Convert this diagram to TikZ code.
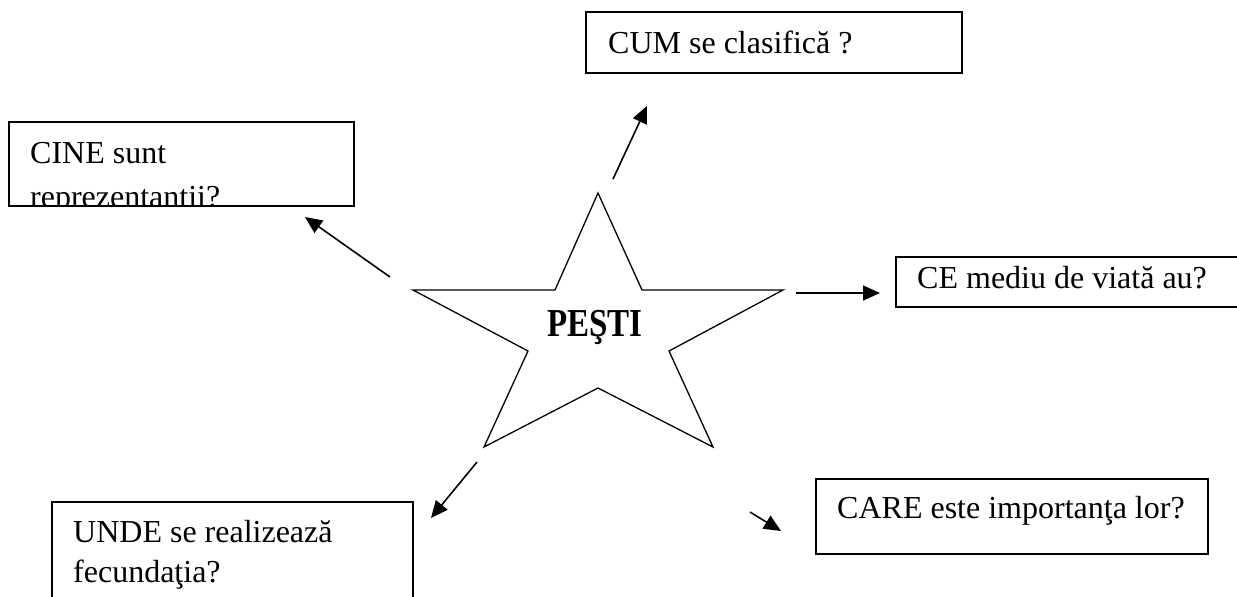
\documentclass[tikz,border=0pt]{standalone}
\usepackage{fontspec}
\setmainfont{Liberation Serif}
\usetikzlibrary{arrows.meta}
\tikzset{
  boxline/.style={line width=1.3pt, draw=black},
  starline/.style={line width=1.3pt, draw=black, line join=miter},
  conn/.style={line width=1.6pt, -{Triangle[length=17pt,width=15pt]}},
  qtext/.style={anchor=base west, inner sep=0pt, font=\fontsize{32}{40}\selectfont},
}
\begin{document}
\begin{tikzpicture}[x=1pt,y=-1pt]
\useasboundingbox (0,0) rectangle (1237,597);
% star
\draw[starline] (598,193) -- (642,290) -- (783,290) -- (669,351) -- (713,447)
  -- (598,388) -- (484,447) -- (528,351) -- (413,290) -- (555,290) -- cycle;
\node[inner sep=0pt, font=\bfseries\fontsize{33}{36}\selectfont] (pesti) at (595,327) {\scalebox{1}[1.2]{PEŞTI}};
% boxes
\draw[boxline] (586,12) rectangle (962,73);
\node[qtext] (cum) at (608,53) {CUM se clasifică ?};
\draw[boxline] (9,122) rectangle (354,206);
\node[qtext] (cine) at (30,163) {CINE sunt};
\begin{scope}
\clip (10,123) rectangle (353,205);
\node[qtext] (cine2) at (30,207) {reprezentantii?};
\end{scope}
\draw[boxline] (1240,257) -- (896,257) -- (896,307) -- (1240,307);
\node[qtext] (ce) at (917,288) {CE mediu de viată au?};
\draw[boxline] (52,600) -- (52,502) -- (413,502) -- (413,600);
\node[qtext] (unde) at (73,542) {UNDE se realizează};
\node[qtext] (unde2) at (73,582) {fecundaţia?};
\draw[boxline] (816,479) rectangle (1208,554);
\node[qtext] (care) at (837,518) {CARE este importanţa lor?};
% connectors
\coordinate (t1) at (613,179); \coordinate (h1) at (647,106);
\coordinate (t2) at (390,277); \coordinate (h2) at (305,217);
\coordinate (t3) at (796,293); \coordinate (h3) at (880,293);
\coordinate (t4) at (477,462); \coordinate (h4) at (431,518);
\coordinate (t5) at (750,512); \coordinate (h5) at (781,531);
\draw[conn] (t1) -- (h1);
\draw[conn] (t2) -- (h2);
\draw[conn] (t3) -- (h3);
\draw[conn] (t4) -- (h4);
\draw[conn] (t5) -- (h5);
\end{tikzpicture}
\end{document}
